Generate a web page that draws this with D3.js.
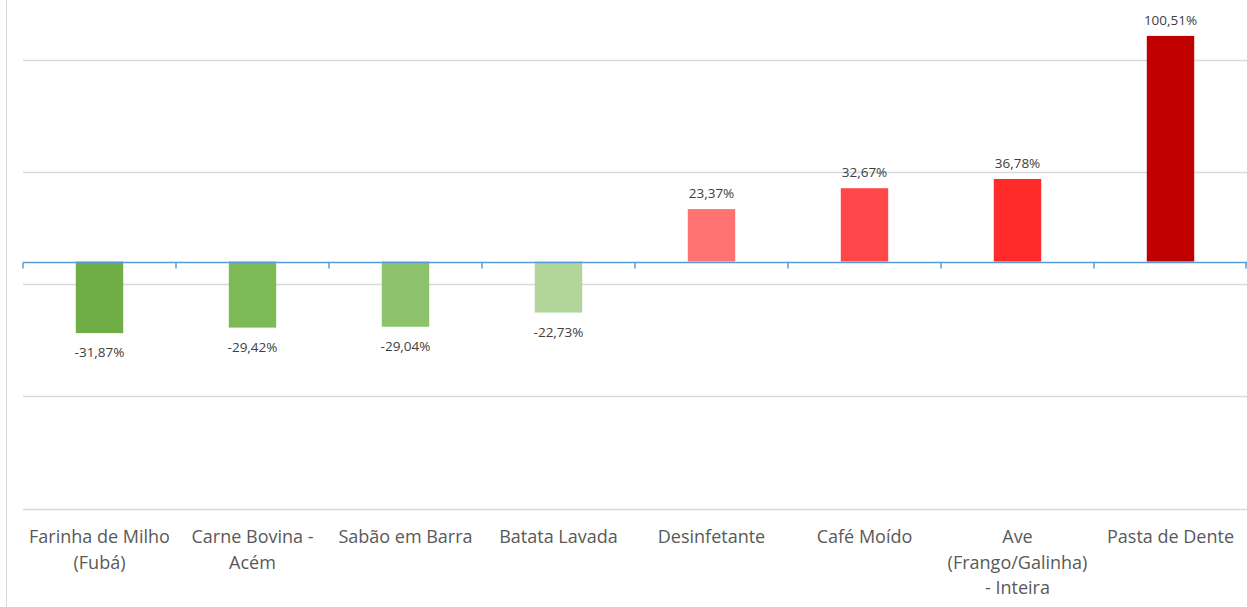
<!DOCTYPE html>
<html>
<head>
  <meta charset="utf-8">
  <title>Variação de preços</title>
  <script src="https://cdn.jsdelivr.net/npm/d3@7"></script>
  <style>
    html, body { margin: 0; padding: 0; background: #fff; }
    svg { display: block; font-family: "Open Sans", "Noto Sans", sans-serif; }
  </style>
</head>
<body>
<div id="chart"></div>
<script>
// data
var categories = [
  "Farinha de Milho\n(Fubá)",
  "Carne Bovina -\nAcém",
  "Sabão em Barra",
  "Batata Lavada",
  "Desinfetante",
  "Café Moído",
  "Ave\n(Frango/Galinha)\n- Inteira",
  "Pasta de Dente"
];
var values = [-31.87, -29.42, -29.04, -22.73, 23.37, 32.67, 36.78, 100.51];
var colors = ["#70AD47", "#7DB956", "#8DC26C", "#B2D69A", "#FF7272", "#FF4649", "#FF2B2B", "#C00000"];
var gridValues = [-110, -60, -10, 40, 90];

var width = 1247, height = 607;
var left = 23, right = 1247;

var svg = d3.select("#chart").append("svg")
    .attr("width", width)
    .attr("height", height);

var x = d3.scaleBand()
    .domain(categories)
    .range([left, right])
    .paddingInner(0.69)
    .paddingOuter(0.345);

var y = d3.scaleLinear()
    .domain([-110, 90])
    .range([508.5, 59.5]);

// frame line at the left
svg.append("line")
    .attr("x1", 6.5).attr("x2", 6.5)
    .attr("y1", 0).attr("y2", height)
    .attr("stroke", "#d9d9d9");

// gridlines
svg.append("g")
  .selectAll("line")
  .data(gridValues)
  .enter().append("line")
    .attr("x1", left).attr("x2", right)
    .attr("y1", function(d) { return Math.round(y(d)) + 0.5; })
    .attr("y2", function(d) { return Math.round(y(d)) + 0.5; })
    .attr("stroke", "#d9d9d9")
    .attr("stroke-width", 1.3);

// bars
svg.append("g")
  .selectAll("rect")
  .data(values)
  .enter().append("rect")
    .attr("x", function(d, i) { return x(categories[i]); })
    .attr("width", x.bandwidth())
    .attr("y", function(d) { return y(Math.max(0, d)); })
    .attr("height", function(d) { return Math.abs(y(d) - y(0)); })
    .attr("fill", function(d, i) { return colors[i]; });

// zero axis with tick marks
var y0 = Math.round(y(0)) + 0.5;
var tickPos = d3.range(categories.length + 1).map(function(i) { return left + i * x.step(); });
svg.append("line")
    .attr("x1", left).attr("x2", right)
    .attr("y1", y0).attr("y2", y0)
    .attr("stroke", "#5B9BD5")
    .attr("stroke-width", 1.5);
svg.append("g")
  .selectAll("line")
  .data(tickPos)
  .enter().append("line")
    .attr("x1", function(d) { return Math.min(d, right - 1); })
    .attr("x2", function(d) { return Math.min(d, right - 1); })
    .attr("y1", y0).attr("y2", y0 + 6)
    .attr("stroke", "#5B9BD5")
    .attr("stroke-width", 1.5);

// value labels (pt-BR style: comma decimal, plain hyphen)
var fmt = function(v) { return d3.format(".2f")(v).replace("\u2212", "-").replace(".", ",") + "%"; };
svg.append("g")
  .selectAll("text")
  .data(values)
  .enter().append("text")
    .attr("x", function(d, i) { return x(categories[i]) + x.bandwidth() / 2; })
    .attr("y", function(d) { return d >= 0 ? y(d) - 11 : y(d) + 24; })
    .attr("text-anchor", "middle")
    .attr("font-size", 13.5)
    .attr("fill", "#404040")
    .text(fmt);

// category labels
var labels = svg.append("g")
  .selectAll("text")
  .data(categories)
  .enter().append("text")
    .attr("x", function(d) { return x(d) + x.bandwidth() / 2; })
    .attr("y", 543)
    .attr("text-anchor", "middle")
    .attr("font-size", 18)
    .attr("fill", "#595959");

labels.selectAll("tspan")
  .data(function(d) { return d.split("\n"); })
  .enter().append("tspan")
    .attr("x", function() { return d3.select(this.parentNode).attr("x"); })
    .attr("dy", function(d, i) { return i === 0 ? 0 : 25.5; })
    .text(function(d) { return d; });
</script>
</body>
</html>
